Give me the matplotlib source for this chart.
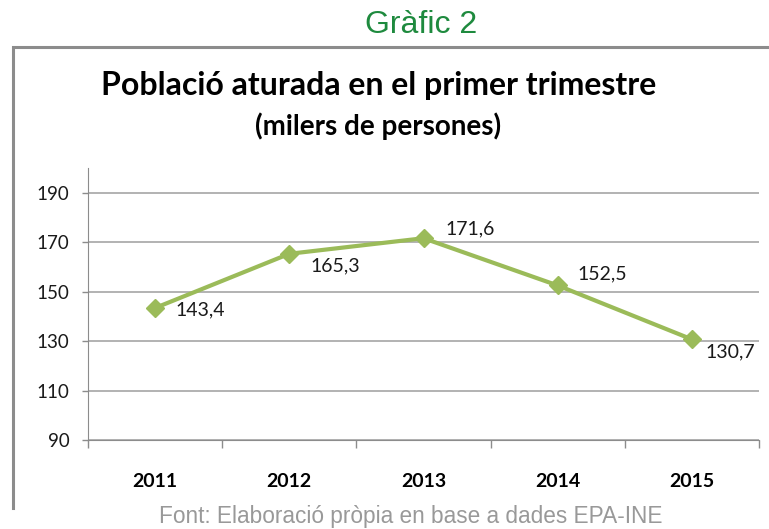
import matplotlib
matplotlib.use("Agg")
import matplotlib.pyplot as plt
from matplotlib.lines import Line2D

years = ["2011", "2012", "2013", "2014", "2015"]
values = [143.4, 165.3, 171.6, 152.5, 130.7]
labels = ["143,4", "165,3", "171,6", "152,5", "130,7"]
yticks = [90, 110, 130, 150, 170, 190]

W, H = 769, 529
fig = plt.figure(figsize=(W / 100, H / 100), dpi=100)

def fx(px):
    return px / W

def fy(py):
    return 1 - py / H

# outer frame (top and left edges only visible)
fig.lines.append(Line2D([fx(13), fx(13), fx(775)], [fy(508), fy(47), fy(47)],
                        transform=fig.transFigure, color="#8c8c8c", linewidth=2.2,
                        solid_joinstyle="miter"))

fig.text(fx(421), fy(25), "Gràfic 2", color="#1e8a3e", fontsize=23,
         family="Liberation Sans", ha="center", va="center")
fig.text(fx(379), fy(86), "Població aturada en el primer trimestre", fontsize=23,
         family="Lato", weight="bold", ha="center", va="center")
fig.text(fx(378), fy(126), "(milers de persones)", fontsize=20,
         family="Lato", weight="bold", ha="center", va="center")
fig.text(fx(411), fy(517), "Font: Elaboració pròpia en base a dades EPA-INE",
         color="#999999", fontsize=16.3, family="Liberation Sans",
         ha="center", va="center")

ax = fig.add_axes([fx(88), fy(440), fx(759) - fx(88), fy(168) - fy(440)])
x = list(range(len(years)))
ax.plot(x, values, color="#9bbb59", linewidth=3, marker="D", markersize=9.5,
        markerfacecolor="#9bbb59", markeredgecolor="#9bbb59", zorder=3)

offsets = [(20, -2), (21, -12), (22, 9), (20, 12), (14, -13)]
for xi, v, lab, (dx, dy) in zip(x, values, labels, offsets):
    ax.annotate(lab, (xi, v), xytext=(dx, dy), textcoords="offset pixels",
                ha="left", va="center", fontsize=14, family="Lato", color="#1a1a1a")

ax.set_xlim(-0.5, 4.5)
ax.set_ylim(90, 200)
ax.set_yticks(yticks)
ax.set_yticklabels([str(t) for t in yticks], family="Lato", fontsize=13.5,
                   color="#1a1a1a")
ax.set_xticks(x)
ax.set_xticklabels(years, family="Lato", weight="bold", fontsize=14)
ax.tick_params(axis="x", length=0, pad=24)
ax.tick_params(axis="y", length=4.3, width=1, color="#8c8c8c", pad=9)
ax.set_xticks([-0.5, 0.5, 1.5, 2.5, 3.5, 4.5], minor=True)
ax.tick_params(axis="x", which="minor", length=6, width=1, color="#8c8c8c")
ax.grid(axis="y", color="#a6a6a6", linewidth=1.2)
ax.set_axisbelow(True)
for s in ["top", "right"]:
    ax.spines[s].set_visible(False)
ax.spines["left"].set_color("#8c8c8c")
ax.spines["bottom"].set_color("#8c8c8c")

fig.savefig("out.png", dpi=100)
